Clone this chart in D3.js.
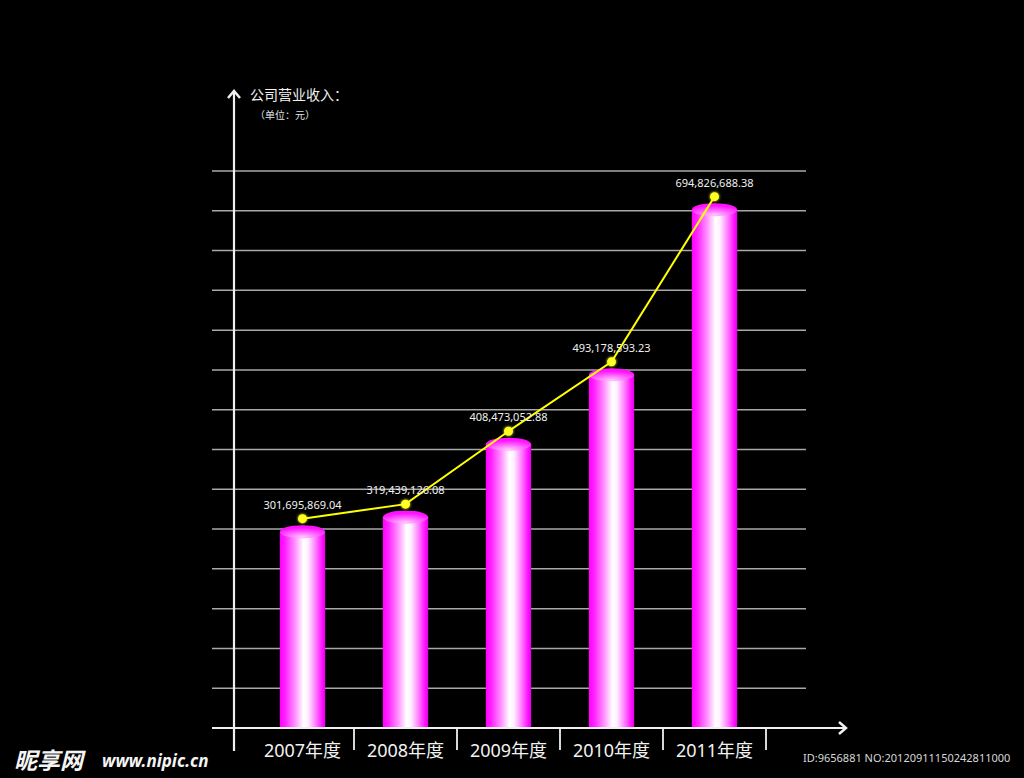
<!DOCTYPE html>
<html>
<head>
<meta charset="utf-8">
<script src="https://cdn.jsdelivr.net/npm/d3@7/dist/d3.min.js"></script>
<style>
  html, body { margin: 0; padding: 0; background: #000; }
  svg { display: block; }
  text { font-family: "Noto Sans", "Noto Sans CJK SC", sans-serif; }
</style>
</head>
<body>
<svg id="chart" width="1024" height="778"></svg>
<script>
// ---- data ----
const categories = ["2007年度", "2008年度", "2009年度", "2010年度", "2011年度"];
const revenue = [301695869.04, 319439126.08, 408473052.88, 493178593.23, 694826688.38];
const titleText = "公司营业收入：";
const unitText = "（单位：元）";
const gridCount = 14;

// ---- layout ----
const W = 1024, H = 778;
const axisY = 728, axisX = 234;
const plotTop = 171;

const svg = d3.select("#chart");
svg.append("rect").attr("width", W).attr("height", H).attr("fill", "#000");

const x = d3.scaleBand().domain(categories).range([251, 766]).padding(0);
const y = d3.scaleLinear().domain([62e6, 742e6]).range([axisY, plotTop]);
const fmt = d3.format(",.2f");
const barW = x.bandwidth() * 0.44;

const defs = svg.append("defs");
const grad = defs.append("linearGradient").attr("id", "barGrad")
  .attr("x1", "0%").attr("x2", "100%").attr("y1", "0%").attr("y2", "0%");
[["0%", "#ff00ff"], ["12%", "#ff22ff"], ["35%", "#ff99ff"], ["52%", "#ffffff"],
 ["62%", "#fff0ff"], ["80%", "#ff77ff"], ["93%", "#ff11ff"], ["100%", "#e600e6"]]
  .forEach(([o, c]) => grad.append("stop").attr("offset", o).attr("stop-color", c));
const topGrad = defs.append("radialGradient").attr("id", "topGrad")
  .attr("cx", "50%").attr("cy", "90%").attr("r", "70%");
[["0%", "#ffc8ff"], ["60%", "#ff55ff"], ["100%", "#ff11ff"]]
  .forEach(([o, c]) => topGrad.append("stop").attr("offset", o).attr("stop-color", c));
const glow = defs.append("filter").attr("id", "glow")
  .attr("x", "-100%").attr("y", "-100%").attr("width", "300%").attr("height", "300%");
glow.append("feGaussianBlur").attr("in", "SourceGraphic").attr("stdDeviation", 1.8).attr("result", "b");
const m = glow.append("feMerge");
m.append("feMergeNode").attr("in", "b");
m.append("feMergeNode").attr("in", "SourceGraphic");

// gridlines
const gridYs = d3.range(1, gridCount + 1).map(i => axisY - i * (axisY - plotTop) / gridCount);
svg.append("g").selectAll("line").data(gridYs).join("line")
  .attr("x1", 212).attr("x2", 806).attr("y1", d => d).attr("y2", d => d)
  .attr("stroke", "#a8a8a8").attr("stroke-width", 1.5);

// bars
const data = categories.map((c, i) => ({ c, v: revenue[i] }));
const cx = d => x(d.c) + x.bandwidth() / 2;
const bars = svg.append("g");
bars.selectAll("rect").data(data).join("rect")
  .attr("x", d => cx(d) - barW / 2).attr("width", barW)
  .attr("y", d => y(d.v)).attr("height", d => axisY - 1 - y(d.v))
  .attr("fill", "url(#barGrad)");
bars.selectAll("ellipse").data(data).join("ellipse")
  .attr("cx", cx).attr("cy", d => y(d.v)).attr("rx", barW / 2).attr("ry", 6.5)
  .attr("fill", "url(#topGrad)");

// axes
const axes = svg.append("g").attr("stroke", "#f0f0f0").attr("stroke-width", 2.2).attr("fill", "none");
axes.append("line").attr("x1", 212).attr("x2", 846).attr("y1", axisY).attr("y2", axisY);
axes.append("line").attr("x1", axisX).attr("x2", axisX).attr("y1", 91).attr("y2", 751);
axes.append("path").attr("d", `M${axisX - 6},${98} L${axisX},${91} L${axisX + 6},${98}`).attr("stroke-width", 2.5);
axes.append("path").attr("d", `M${839},${axisY - 6} L${846},${axisY} L${839},${axisY + 6}`).attr("stroke-width", 2.5);
// tick marks at band boundaries
axes.selectAll("line.tick").data(categories).join("line").attr("class", "tick")
  .attr("x1", d => x(d) + x.bandwidth()).attr("x2", d => x(d) + x.bandwidth())
  .attr("y1", axisY).attr("y2", 750).attr("stroke-width", 1.8);

// category labels
svg.append("g").selectAll("text").data(categories).join("text")
  .attr("x", d => x(d) + x.bandwidth() / 2).attr("y", 757)
  .attr("text-anchor", "middle").attr("fill", "#f2f2f2")
  .attr("font-size", 18).text(d => d);

// line + points
const ptY = d => y(d.v) - 13;
svg.append("path").datum(data)
  .attr("d", d3.line().x(cx).y(ptY))
  .attr("fill", "none").attr("stroke", "#ffff00").attr("stroke-width", 2);
svg.append("g").selectAll("circle").data(data).join("circle")
  .attr("cx", cx).attr("cy", ptY).attr("r", 4.5)
  .attr("fill", "#ffff22").attr("filter", "url(#glow)");
svg.append("g").selectAll("text").data(data).join("text")
  .attr("x", cx).attr("y", d => ptY(d) - 10)
  .attr("text-anchor", "middle").attr("fill", "#f0f0f0")
  .attr("font-size", 11).text(d => fmt(d.v));

// titles
svg.append("text").attr("x", 250).attr("y", 100).attr("fill", "#f2f2f2")
  .attr("font-size", 14).text(titleText);
svg.append("text").attr("x", 255).attr("y", 119).attr("fill", "#e0e0e0")
  .attr("font-size", 10).text(unitText);

// watermark
svg.append("text").attr("x", 14).attr("y", 769).attr("fill", "#f5f5f5")
  .attr("font-size", 23).attr("font-weight", "bold").attr("font-style", "italic")
  .text("昵享网");
svg.append("text").attr("x", 102).attr("y", 767).attr("fill", "#f5f5f5")
  .attr("font-size", 17).attr("font-weight", "bold").attr("font-style", "italic")
  .text("www.nipic.cn");
svg.append("text").attr("x", 803).attr("y", 762).attr("fill", "#d8d8d8")
  .attr("font-size", 11).text("ID:9656881 NO:20120911150242811000");
</script>
</body>
</html>
